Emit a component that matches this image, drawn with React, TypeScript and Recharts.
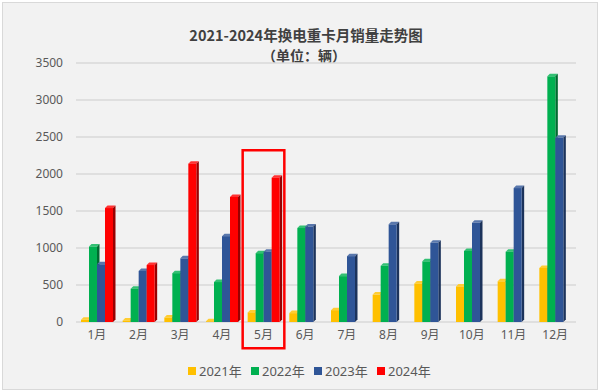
import { BarChart, Bar, XAxis, YAxis, CartesianGrid, ReferenceArea } from "recharts";

const months = ["1月", "2月", "3月", "4月", "5月", "6月", "7月", "8月", "9月", "10月", "11月", "12月"];
const sales2021 = [30, 20, 60, 10, 130, 120, 160, 370, 520, 480, 550, 730];
const sales2022 = [1020, 450, 660, 540, 930, 1270, 620, 760, 820, 960, 950, 3320];
const sales2023 = [780, 690, 860, 1160, 950, 1290, 890, 1320, 1070, 1340, 1810, 2490];
const sales2024 = [1540, 770, 2140, 1690, 1950, null, null, null, null, null, null, null];
const seriesNames = ["2021年", "2022年", "2023年", "2024年"];
const yTicks = [0, 500, 1000, 1500, 2000, 2500, 3000, 3500];
const highlightMonth = "5月";

const colors = ["#FFC000", "#00B050", "#2F5597", "#FF0000"];
const seriesKeys = ["y2021", "y2022", "y2023", "y2024"];

const chartData = months.map((m, i) => ({
  month: m,
  y2021: sales2021[i],
  y2022: sales2022[i],
  y2023: sales2023[i],
  y2024: sales2024[i],
}));

function shade(hex: string, k: number) {
  const n = parseInt(hex.slice(1), 16);
  const ch = [(n >> 16) & 255, (n >> 8) & 255, n & 255].map((c) =>
    Math.max(0, Math.min(255, Math.round(k > 1 ? c + (255 - c) * (k - 1) : c * k)))
  );
  return `rgb(${ch.join(",")})`;
}

// fake the excel 3d column look: front face + top cap + dark side
function Bar3D(props: any) {
  const { x, y, width, height, fill } = props;
  if (!height || height <= 0) return null;
  const d = 2.5;
  return (
    <g>
      <polygon
        points={`${x},${y} ${x + d},${y - d} ${x + width + d},${y - d} ${x + width},${y}`}
        fill={shade(fill, 1.2)}
      />
      <polygon
        points={`${x + width},${y} ${x + width + d},${y - d} ${x + width + d},${y + height - d} ${x + width},${y + height}`}
        fill={shade(fill, 0.6)}
      />
      <rect x={x} y={y} width={width} height={height} fill={fill} />
    </g>
  );
}

const tickStyle = { fill: "#595959", fontSize: 12, fontFamily: "'Noto Sans', 'Noto Sans CJK SC', sans-serif" };

export default function App() {
  return (
    <div style={{ position: "absolute", left: 0, top: 0, width: 600, height: 392, background: "#fff" }}>
      <div
        style={{
          position: "absolute",
          left: 2,
          top: 2,
          width: 594,
          height: 386,
          background: "#f2f2f2",
          border: "1px solid #d9d9d9",
        }}
      />
      <div
        style={{
          position: "absolute",
          left: 6,
          top: 25,
          width: 600,
          textAlign: "center",
          fontFamily: "'Noto Sans CJK SC', sans-serif",
          fontWeight: 700,
          fontSize: 14.5,
          color: "#404040",
          lineHeight: "20px",
        }}
      >
        2021-2024年换电重卡月销量走势图
      </div>
      <div
        style={{
          position: "absolute",
          left: 4,
          top: 45,
          width: 600,
          textAlign: "center",
          fontFamily: "'Noto Sans CJK SC', sans-serif",
          fontWeight: 700,
          fontSize: 14,
          color: "#404040",
          lineHeight: "20px",
        }}
      >
        （单位：辆）
      </div>
      <div style={{ position: "absolute", left: 0, top: 0 }}>
        <BarChart
          width={600}
          height={392}
          data={chartData}
          margin={{ top: 63, right: 24, bottom: 40, left: 0 }}
          barSize={8}
          barGap={0}
        >
          <CartesianGrid vertical={false} stroke="#d9d9d9" strokeWidth={1.5} />
          <XAxis dataKey="month" axisLine={false} tickLine={false} tick={tickStyle} interval={0} />
          <YAxis
            width={76}
            domain={[0, 3500]}
            ticks={yTicks}
            axisLine={false}
            tickLine={false}
            tick={tickStyle}
            tickMargin={7}
          />
          {seriesKeys.map((k, i) => (
            <Bar key={k} dataKey={k} name={seriesNames[i]} fill={colors[i]} shape={<Bar3D />} isAnimationActive={false} />
          ))}
          <ReferenceArea
            x1={highlightMonth}
            x2={highlightMonth}
            y1={-355}
            y2={2320}
            ifOverflow="visible"
            fill="none"
            fillOpacity={0}
            stroke="#FF0000"
            strokeWidth={2.5}
            strokeOpacity={1}
          />
        </BarChart>
      </div>
      <div
        style={{
          position: "absolute",
          left: 188,
          top: 361,
          display: "flex",
          fontFamily: "'Noto Sans', 'Noto Sans CJK SC', sans-serif",
          fontSize: 13,
          color: "#595959",
        }}
      >
        {seriesNames.map((name, i) => (
          <div key={name} style={{ display: "flex", alignItems: "center", width: 63 }}>
            <span style={{ display: "inline-block", width: 8, height: 8, background: colors[i], marginRight: 3 }} />
            <span>{name}</span>
          </div>
        ))}
      </div>
    </div>
  );
}
